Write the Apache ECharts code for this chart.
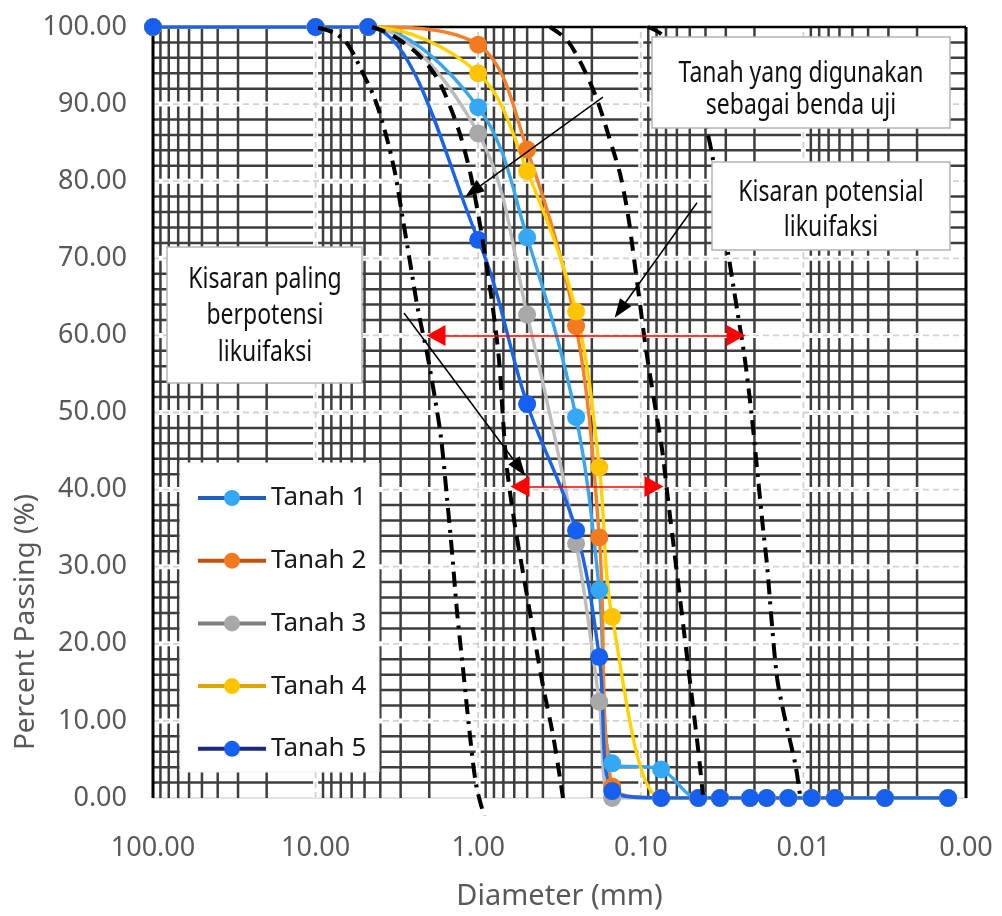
<!DOCTYPE html>
<html><head><meta charset="utf-8">
<script src="https://cdn.jsdelivr.net/npm/echarts@6/dist/echarts.min.js"></script>
<style>html,body{margin:0;padding:0;background:#fff}#c{width:1002px;height:916px}</style>
</head><body><div id="c"></div>
<script>
// ---------- data ----------
const sieveSizes = [100, 10, 4.75, 1.0, 0.5, 0.25, 0.18, 0.15, 0.075, 0.0443, 0.0326, 0.0213, 0.0168, 0.0124, 0.0089, 0.0064, 0.00315, 0.00129];
const tanah1 = [100, 100, 100, 89.6, 72.7, 49.4, 27.0, 4.5, 3.7, 0, 0, 0, 0, 0, 0, 0, 0, 0];
const tanah2 = [100, 100, 100, 97.7, 84.1, 61.2, 33.8, 1.5, 0, 0, 0, 0, 0, 0, 0, 0, 0, 0];
const tanah3 = [100, 100, 100, 86.2, 62.7, 33.0, 12.5, 0, 0, 0, 0, 0, 0, 0, 0, 0, 0, 0];
const tanah4 = [100, 100, 100, 94.0, 81.3, 63.1, 42.9, 23.5, 0, 0, 0, 0, 0, 0, 0, 0, 0, 0];
const tanah5 = [100, 100, 100, 72.4, 51.1, 34.7, 18.3, 0.9, 0, 0, 0, 0, 0, 0, 0, 0, 0, 0];
const seriesNames = ['Tanah 1', 'Tanah 2', 'Tanah 3', 'Tanah 4', 'Tanah 5'];

// boundary curves (diameter mm, percent passing)
const bound1D = [9.66, 7.60, 6.32, 5.11, 4.31, 3.69, 3.25, 2.94, 2.63, 2.35, 2.06, 1.84, 1.69, 1.56, 1.45, 1.35, 1.24, 1.14, 1.03, 0.92];
const bound1P = [99.9, 99.2, 97.7, 94.0, 90.6, 86.0, 81.1, 75.7, 69.6, 63.4, 57.6, 51.7, 46.6, 39.2, 32.0, 24.2, 16.8, 9.3, 1.7, -2.3];
const bound2D = [4.50, 3.49, 2.38, 1.79, 1.49, 1.29, 1.12, 1.00, 0.895, 0.811, 0.745, 0.704, 0.665, 0.594, 0.523, 0.454, 0.400, 0.347, 0.314, 0.301];
const bound2P = [100, 99.1, 96.6, 93.4, 89.7, 86.0, 81.1, 75.7, 69.6, 63.4, 56.9, 49.2, 42.7, 35.3, 28.5, 21.1, 14.6, 8.2, 2.6, 0];
const bound3D = [0.362, 0.284, 0.227, 0.186, 0.155, 0.134, 0.120, 0.110, 0.101, 0.0929, 0.0830, 0.0741, 0.0681, 0.0625, 0.0574, 0.0527, 0.0484, 0.0445, 0.0415];
const bound3P = [100, 98.3, 94.8, 90.6, 85.4, 80.9, 75.7, 69.9, 64.0, 58.2, 51.7, 45.3, 38.8, 32.3, 25.9, 19.4, 12.9, 6.5, 0.4];
const bound4D = [0.0903, 0.0741, 0.0574, 0.0464, 0.0386, 0.0335, 0.0291, 0.0256, 0.0229, 0.0207, 0.0190, 0.0177, 0.0167, 0.0156, 0.0145, 0.0132, 0.0121, 0.0111, 0.0105];
const bound4P = [100, 99.0, 95.7, 91.2, 86.0, 78.9, 70.8, 63.4, 56.9, 49.2, 41.4, 34.9, 30.0, 22.4, 15.5, 11.0, 7.5, 3.9, 0.4];

// annotation arrows: [fromD, fromP, toD, toP]
const blackArrows = [[0.171, 90.9, 1.076, 78.7], [0.0451, 77.2, 0.134, 63.3], [2.86, 62.9, 0.556, 42.8]];
const redArrows = [[1.818, 60.0, 0.02598, 60.0], [0.553, 40.4, 0.0830, 40.4]];

// axis ticks
const xMajorTicks = [100, 10, 1, 0.1, 0.01, 0.001];
const yTicks = [0, 10, 20, 30, 40, 50, 60, 70, 80, 90, 100];

// ---------- styles ----------
const lineColors = ['#3aa6f0', '#f5822a', '#bdbdbd', '#ffd200', '#1a64e8'];
const markerColors = ['#35a8f5', '#f47a20', '#a8a8a8', '#ffc400', '#1560f0'];
const legendLineColors = ['#1f5fbf', '#c55011', '#7f7f7f', '#e0a600', '#1a2a80'];
const FONT = '"Noto Sans", "DejaVu Sans", sans-serif';

// graph-paper grid structure
const minorX = [];
for (let i = 1; i < xMajorTicks.length; i++) {
  const base = xMajorTicks[i];
  for (let k = 2; k <= 9; k++) minorX.push(+(k * base).toPrecision(3));
}
const minorY = [];
for (let p = 2; p < 100; p += 2) if (p % 10 !== 0) minorY.push(p);
const innerMajorX = xMajorTicks.slice(1, -1);
const innerMajorY = yTicks.slice(1, -1);

function vLines(name, values, style) {
  return {
    type: 'custom', name, silent: true, z: 1, clip: false,
    data: values.map(v => [v, 0]), encode: {x: 0, y: 1},
    renderItem: (params, api) => {
      const x = api.value(0);
      const a = api.coord([x, 0]), b = api.coord([x, 100]);
      return {type: 'line', shape: {x1: a[0], y1: a[1], x2: b[0], y2: b[1]}, style};
    }
  };
}
function hLines(name, values, style) {
  return {
    type: 'custom', name, silent: true, z: 1, clip: false,
    data: values.map(v => [1, v]), encode: {x: 0, y: 1},
    renderItem: (params, api) => {
      const y = api.value(1);
      const a = api.coord([100, y]), b = api.coord([0.001, y]);
      return {type: 'line', shape: {x1: a[0], y1: a[1], x2: b[0], y2: b[1]}, style};
    }
  };
}

const gridInk = {stroke: '#3e3e3e', lineWidth: 2.5};
const bandWhite = {stroke: '#ffffff', lineWidth: 5};
const bandDash = {stroke: '#d2d2d2', lineWidth: 1.8, lineDash: [6, 4]};

const dataSets = [tanah1, tanah2, tanah3, tanah4, tanah5];
const dataSeries = dataSets.map((vals, i) => ({
  name: seriesNames[i], type: 'line', z: 2,
  data: sieveSizes.map((d, j) => [d, vals[j]]),
  smooth: 0.35, symbol: 'circle', symbolSize: 18, showAllSymbol: true,
  lineStyle: {color: lineColors[i], width: 3.4},
  itemStyle: {color: markerColors[i]},
  emphasis: {disabled: true}
}));

function boundSeries(name, ds, ps, dash, withMarks) {
  const s = {
    name, type: 'line', z: 3, silent: true, clip: false, smooth: 0.3, symbol: 'none',
    data: ds.map((d, j) => [d, ps[j]]),
    lineStyle: {color: '#000', width: 4, type: dash, cap: 'butt'},
    emphasis: {disabled: true}
  };
  if (withMarks) {
    const lines = [];
    blackArrows.forEach(a => lines.push([
      {coord: [a[0], a[1]], symbol: 'none', lineStyle: {color: '#000', width: 1.5, type: 'solid'}},
      {coord: [a[2], a[3]], symbol: 'triangle', symbolSize: [14, 19], itemStyle: {color: '#000'}, lineStyle: {color: '#000', width: 1.5, type: 'solid'}}
    ]));
    redArrows.forEach(a => lines.push([
      {coord: [a[0], a[1]], symbol: 'triangle', symbolSize: [21, 19], itemStyle: {color: '#ff0000'}, lineStyle: {color: '#ff0000', width: 1.5, type: 'solid'}},
      {coord: [a[2], a[3]], symbol: 'triangle', symbolSize: [21, 19], itemStyle: {color: '#ff0000'}, lineStyle: {color: '#ff0000', width: 1.5, type: 'solid'}}
    ]));
    s.markLine = {silent: true, animation: false, label: {show: false}, emphasis: {disabled: true}, data: lines, lineStyle: {type: 'solid'}};
  }
  return s;
}

const dashed = [14, 9];
const dashDot = [15, 7, 3, 7];

// text boxes (layout)
const boxes = [
  {x: 652, y: 37, w: 298, h: 91, cx: 801, ys: [73, 105], lines: ['Tanah yang digunakan', 'sebagai benda uji']},
  {x: 712, y: 162, w: 238, h: 88, cx: 831, ys: [192, 227], lines: ['Kisaran potensial', 'likuifaksi']},
  {x: 167, y: 247, w: 195, h: 136, cx: 265, ys: [279, 315, 352], lines: ['Kisaran paling', 'berpotensi', 'likuifaksi']}
];
const graphics = [];
boxes.forEach(b => {
  graphics.push({type: 'rect', z: 10, silent: true, shape: {x: b.x, y: b.y, width: b.w, height: b.h},
    style: {fill: '#fff', stroke: '#b4b4b4', lineWidth: 1.5}});
  b.lines.forEach((t, i) => graphics.push({type: 'text', z: 11, silent: true, x: b.cx, y: b.ys[i], scaleY: 1.3,
    style: {text: t, fontSize: 23, fontFamily: FONT, fill: '#111', align: 'center', verticalAlign: 'middle', textAlign: 'center', textVerticalAlign: 'middle'}}));
});
// legend background
graphics.push({type: 'rect', z: 10, silent: true, shape: {x: 180, y: 463, width: 199, height: 309}, style: {fill: '#fff', stroke: '#f0f0f0', lineWidth: 1}});
// y axis title
graphics.push({type: 'text', z: 11, silent: true, x: 26, y: 622, rotation: Math.PI / 2,
  style: {text: 'Percent Passing (%)', fontSize: 28, fontFamily: FONT, fill: '#595959', align: 'center', verticalAlign: 'middle', textAlign: 'center', textVerticalAlign: 'middle'}});

const chart = echarts.init(document.getElementById('c'), null, {renderer: 'canvas'});
chart.setOption({
  animation: false,
  backgroundColor: '#fff',
  grid: {left: 153, right: 36, top: 27, bottom: 116},
  xAxis: {
    type: 'log', logBase: 10, min: 0.001, max: 100, inverse: true,
    name: 'Diameter (mm)', nameLocation: 'middle', nameGap: 84,
    nameTextStyle: {fontSize: 29, color: '#595959', fontFamily: FONT},
    axisLine: {show: true, lineStyle: {color: '#d9d9d9', width: 1.5}},
    axisTick: {show: false}, splitLine: {show: false}, minorTick: {show: false},
    axisLabel: {fontSize: 27, color: '#595959', fontFamily: FONT, margin: 37, showMinLabel: true, showMaxLabel: true,
      formatter: v => Number(v).toFixed(2)}
  },
  yAxis: {
    type: 'value', min: yTicks[0], max: yTicks[yTicks.length - 1], interval: 10,
    axisLine: {show: false}, axisTick: {show: false}, splitLine: {show: false},
    axisLabel: {fontSize: 27, color: '#595959', fontFamily: FONT, margin: 26, formatter: v => v.toFixed(2)}
  },
  legend: {
    orient: 'vertical', left: 196, top: 485, padding: 0, itemWidth: 68, itemHeight: 20, itemGap: 36.7, z: 20,
    selectedMode: false,
    textStyle: {fontSize: 26, color: '#1a1a1a', fontFamily: FONT},
    data: seriesNames.map((n, i) => ({name: n, itemStyle: {color: markerColors[i]}, lineStyle: {color: legendLineColors[i], width: 4}}))
  },
  graphic: {elements: graphics},
  series: [
    vLines('minorX', minorX, gridInk),
    hLines('minorY', minorY, gridInk),
    vLines('bandX', innerMajorX, bandWhite),
    hLines('bandY', innerMajorY, bandWhite),
    vLines('dashX', innerMajorX, bandDash),
    hLines('dashY', innerMajorY, bandDash),
    vLines('frameX', [xMajorTicks[0], xMajorTicks[xMajorTicks.length - 1]], {stroke: '#000', lineWidth: 3}),
    hLines('frameY', [100], {stroke: '#000', lineWidth: 2.6}),
    ...dataSeries,
    boundSeries('b1', bound1D, bound1P, dashDot, true),
    boundSeries('b2', bound2D, bound2P, dashed, false),
    boundSeries('b3', bound3D, bound3P, dashed, false),
    boundSeries('b4', bound4D, bound4P, dashDot, false)
  ]
});
</script></body></html>
